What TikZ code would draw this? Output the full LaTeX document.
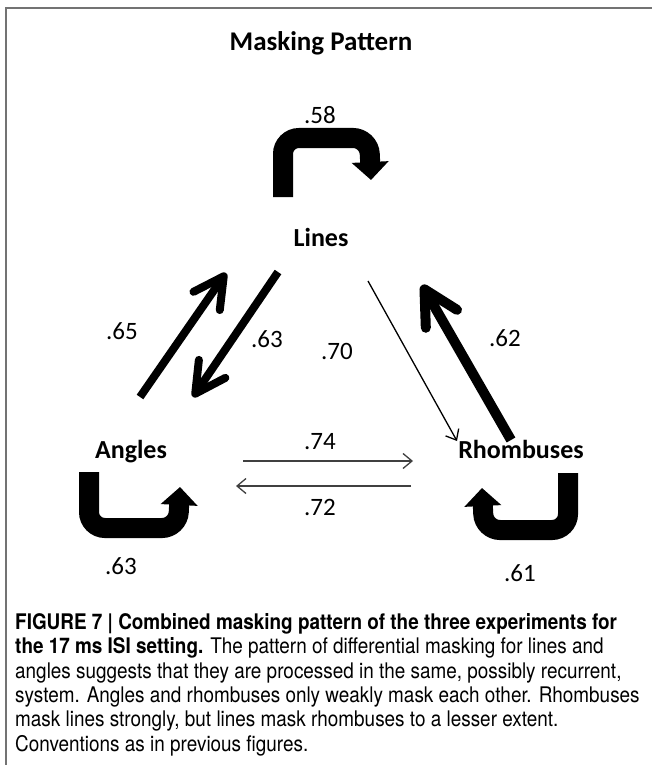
\documentclass[tikz,border=0pt]{standalone}
\usepackage{fontspec}
\setmainfont{Carlito}
\newfontfamily\capfont[FakeStretch=0.88]{TeX Gyre Heros}
\usetikzlibrary{arrows.meta}
\tikzset{
  frameline/.style={draw=black!55, line width=2pt},
  titletext/.style={font=\bfseries\fontsize{27}{30}\selectfont, anchor=base, inner sep=0pt},
  labeltext/.style={font=\bfseries\fontsize{26}{30}\selectfont, anchor=base, inner sep=0pt},
  numtext/.style={font=\fontsize{25}{30}\selectfont, anchor=base, inner sep=0pt},
  looparr/.style={line width=20pt, rounded corners=16pt, -{Triangle[length=18pt,width=36pt]}},
  thickarr/.style={line width=8pt, -{Straight Barb[length=30pt,width=32pt,line cap=round,line join=round]}},
  thickerarr/.style={line width=10pt, -{Straight Barb[length=34pt,width=36pt,line cap=round,line join=round]}},
  thinarr/.style={line width=1.3pt, -{Straight Barb[length=9pt,width=15pt]}},
}
\begin{document}
\begin{tikzpicture}[x=1pt,y=-1pt]
\useasboundingbox (0,0) rectangle (652,765);
% frame (top and left)
\coordinate (fr1) at (652,8);
\coordinate (fr2) at (6,8);
\coordinate (fr3) at (6,765);
\draw[frameline] (fr1) -- (fr2) -- (fr3);

\node[titletext] (title) at (321,51) {Masking Pattern};

\node[labeltext] (lines) at (321,246) {Lines};
\node[labeltext] (angles) at (131,458) {Angles};
\node[labeltext] (rhomb) at (521,458) {Rhombuses};

% numbers
\node[numtext] (n58) at (320,124) {.58};
\node[numtext] (n65) at (122,339) {.65};
\node[numtext] (n63a) at (267,347) {.63};
\node[numtext] (n70) at (337,359) {.70};
\node[numtext] (n62) at (505,346) {.62};
\node[numtext] (n74) at (320,449) {.74};
\node[numtext] (n72) at (320,515) {.72};
\node[numtext] (n63b) at (121,574) {.63};
\node[numtext] (n61) at (520,581) {.61};

% self loops
\coordinate (lA) at (283,197);
\coordinate (lB) at (283,138);
\coordinate (lC) at (369,138);
\coordinate (lD) at (371,180);
\draw[looparr] (lA) -- (lB) -- (lC) -- (lD);

\coordinate (aA) at (89,472);
\coordinate (aB) at (89,528);
\coordinate (aC) at (178,528);
\coordinate (aD) at (180,487);
\draw[looparr] (aA) -- (aB) -- (aC) -- (aD);

\coordinate (rA) at (568,473);
\coordinate (rB) at (568,530);
\coordinate (rC) at (484,530);
\coordinate (rD) at (482,488);
\draw[looparr] (rA) -- (rB) -- (rC) -- (rD);

% diagonal arrows
\coordinate (a65s) at (140,397);
\coordinate (a65e) at (226,273);
\draw[thickarr] (a65s) -- (a65e);

\coordinate (a63s) at (278,272);
\coordinate (a63e) at (193,397);
\draw[thickarr] (a63s) -- (a63e);

\coordinate (a70s) at (368,281);
\coordinate (a70e) at (457,441);
\draw[thinarr] (a70s) -- (a70e);

\coordinate (a62s) at (511,440);
\coordinate (a62e) at (422,285);
\draw[thickerarr] (a62s) -- (a62e);

% horizontal arrows
\coordinate (a74s) at (243,461);
\coordinate (a74e) at (413,461);
\draw[thinarr, draw=black!75] (a74s) -- (a74e);

\coordinate (a72s) at (411,486);
\coordinate (a72e) at (236,486);
\draw[thinarr, draw=black!75] (a72s) -- (a72e);

% caption
\node[anchor=base west, inner sep=0pt, align=left, font=\capfont\fontsize{21.5}{24.3}\selectfont] (cap) at (15,751)
{\textbf{FIGURE 7 | Combined masking pattern of the three experiments for}\\
\textbf{the 17 ms ISI setting.} The pattern of differential masking for lines and\\
angles suggests that they are processed in the same, possibly recurrent,\\
system. Angles and rhombuses only weakly mask each other. Rhombuses\\
mask lines strongly, but lines mask rhombuses to a lesser extent.\\
Conventions as in previous figures.};
\end{tikzpicture}
\end{document}
